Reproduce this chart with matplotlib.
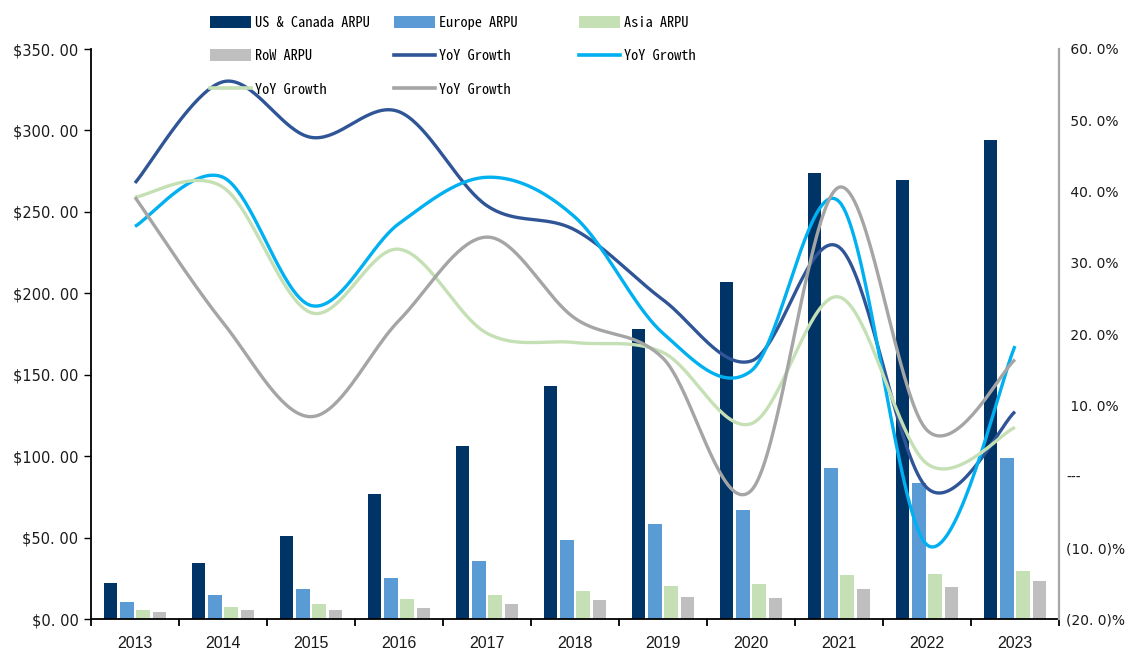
import numpy as np
import matplotlib
matplotlib.use("Agg")
import matplotlib.pyplot as plt
from matplotlib.patches import Patch
from matplotlib.lines import Line2D
from matplotlib.ticker import FixedLocator, FuncFormatter

# ---- data -------------------------------------------------------------
years = ["2013", "2014", "2015", "2016", "2017", "2018",
         "2019", "2020", "2021", "2022", "2023"]

us_canada_arpu = [22.1, 34.4, 51.0, 76.8, 106.2, 143.0, 178.1, 206.9, 273.9, 269.6, 294.0]
europe_arpu = [10.4, 14.7, 18.4, 25.2, 35.6, 48.5, 58.3, 66.9, 92.7, 83.5, 98.9]
asia_arpu = [5.5, 7.4, 9.2, 12.3, 14.7, 17.2, 20.3, 21.5, 27.0, 27.6, 29.5]
row_arpu = [4.3, 5.5, 5.5, 6.8, 9.2, 11.7, 13.5, 12.9, 18.4, 19.6, 23.3]

# year-over-year growth, percent
us_canada_yoy = [41.2, 55.4, 47.6, 51.2, 38.0, 34.6, 24.8, 16.2, 32.2, -1.6, 9.1]
europe_yoy = [35.1, 42.0, 24.0, 35.5, 42.0, 36.4, 20.1, 14.8, 38.6, -9.6, 18.3]
asia_yoy = [39.2, 40.6, 23.0, 31.9, 20.1, 18.8, 17.4, 7.4, 25.2, 1.8, 6.9]
row_yoy = [39.2, 21.6, 8.4, 21.9, 33.6, 22.2, 16.6, -2.0, 40.6, 6.5, 16.4]

bar_labels = ["US & Canada ARPU", "Europe ARPU", "Asia ARPU", "RoW ARPU"]
line_label = "YoY Growth"

bar_colors = ["#003366", "#5B9BD5", "#C5E0B4", "#BFBFBF"]
line_colors = ["#2F5597", "#00B0F0", "#C5E0B4", "#A5A5A5"]


def smooth_curve(xs, ys, n=40):
    """Piecewise cubic Bezier through the points (Catmull-Rom tangents)."""
    pts = np.column_stack([xs, ys]).astype(float)
    P = np.vstack([pts[0], pts, pts[-1]])
    t = np.linspace(0, 1, n)[:, None]
    segs = []
    for i in range(1, len(P) - 2):
        p0, p1, p2, p3 = P[i - 1], P[i], P[i + 1], P[i + 2]
        c1 = p1 + (p2 - p0) / 6.0
        c2 = p2 - (p3 - p1) / 6.0
        seg = ((1 - t) ** 3) * p1 + 3 * ((1 - t) ** 2) * t * c1 \
            + 3 * (1 - t) * (t ** 2) * c2 + (t ** 3) * p2
        segs.append(seg if i == 1 else seg[1:])
    out = np.vstack(segs)
    return out[:, 0], out[:, 1]


# ---- figure -------------------------------------------------------------
W, H = 1140, 650
fig = plt.figure(figsize=(W / 100, H / 100), dpi=100)
left, right, bottom, top = 91, 1059, 619, 49
ax = fig.add_axes([left / W, (H - bottom) / H, (right - left) / W, (bottom - top) / H])

x = np.arange(len(years))
step = 0.182
width = 0.148
for k, (vals, col) in enumerate(zip([us_canada_arpu, europe_arpu, asia_arpu, row_arpu], bar_colors)):
    ax.bar(x + (k - 1.5) * step, vals, width=width, color=col, zorder=2)

ax.set_xlim(-0.5, len(years) - 0.5)
ax.set_ylim(0, 350)

ax.yaxis.set_major_locator(FixedLocator(np.arange(0, 351, 50)))
ax.yaxis.set_major_formatter(FuncFormatter(lambda v, p: f"${int(round(v))}. 00"))
ax.tick_params(axis="y", which="major", length=5, width=1, color="black",
               labelsize=10.5, pad=4, labelcolor="#1a1a1a")

ax.set_xticks(x)
ax.set_xticklabels(years, fontfamily=["Liberation Sans", "DejaVu Sans"], fontsize=11.5)
ax.xaxis.set_minor_locator(FixedLocator(np.arange(-0.5, len(years), 1.0)))
ax.tick_params(axis="x", which="major", length=0, pad=12, labelcolor="#1a1a1a")
ax.tick_params(axis="x", which="minor", length=5, width=1.3, color="black")

for s in ["top", "right"]:
    ax.spines[s].set_visible(False)
ax.spines["left"].set_linewidth(1.3)
ax.spines["bottom"].set_linewidth(1.3)

# ---- growth lines on secondary axis --------------------------------------
ax2 = ax.twinx()
for vals, col in zip([us_canada_yoy, europe_yoy, asia_yoy, row_yoy], line_colors):
    sx, sy = smooth_curve(x, vals)
    ax2.plot(sx, sy, color=col, lw=2.4, solid_capstyle="butt", zorder=3)

ax2.set_ylim(-20, 60)
ax2.yaxis.set_major_locator(FixedLocator(np.arange(-20, 61, 10)))


def pct_fmt(v, p):
    v = int(round(v))
    if v == 0:
        return "---"
    if v < 0:
        return f"({abs(v)}. 0)%"
    return f" {v}. 0%"


ax2.yaxis.set_major_formatter(FuncFormatter(pct_fmt))
ax2.tick_params(axis="y", length=0, pad=5, labelsize=10, labelcolor="#1a1a1a")
for s in ["top", "left", "bottom"]:
    ax2.spines[s].set_visible(False)
ax2.spines["right"].set_color("#A6A6A6")
ax2.spines["right"].set_linewidth(1.6)

# ---- legend (three columns) ---------------------------------------------
bar_handles = [Patch(facecolor=c, edgecolor="none") for c in bar_colors]
line_handles = [Line2D([0], [0], color=c, lw=2.6) for c in line_colors]
columns = [
    ([bar_handles[0], bar_handles[3], line_handles[2]],
     [bar_labels[0], bar_labels[3], line_label], 210),
    ([bar_handles[1], line_handles[0], line_handles[3]],
     [bar_labels[1], line_label, line_label], 394),
    ([bar_handles[2], line_handles[1]],
     [bar_labels[2], line_label], 579),
]
for handles, labels, xpix in columns:
    fig.legend(handles, labels, loc="upper left",
               bbox_to_anchor=(xpix / W, 1 - 16 / H),
               frameon=False, borderpad=0, borderaxespad=0,
               handlelength=2.85, handleheight=0.9, handletextpad=0.3,
               labelspacing=1.35,
               prop={"family": ["Noto Sans Mono CJK JP", "Liberation Sans Narrow", "DejaVu Sans"],
                     "size": 10.3})

fig.savefig("out.png", dpi=100, facecolor="white")
